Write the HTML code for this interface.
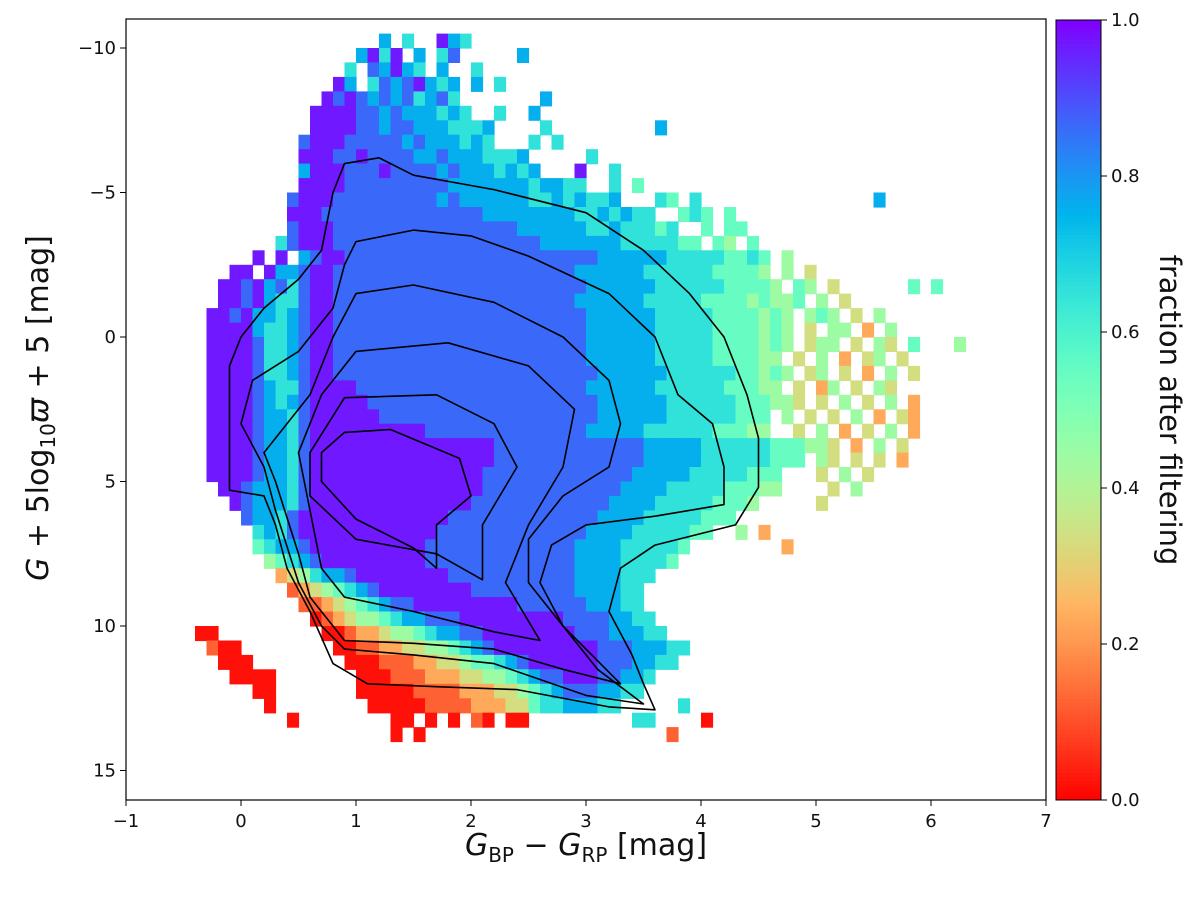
<!DOCTYPE html>
<html><head><meta charset="utf-8"><style>
body{margin:0;background:#fff;width:1200px;height:900px;overflow:hidden}
svg text{font-family:"DejaVu Sans","Liberation Sans",sans-serif;fill:#111}
</style></head><body>
<svg id="chart" width="1200" height="900" xmlns="http://www.w3.org/2000/svg">
<g id="cells"></g>
<g id="contours"></g>
<g id="axes"></g>
<g id="cbar"></g>
</svg>
<script>
// ---- data ----
const xTicks=[-1,0,1,2,3,4,5,6,7];
const yTicks=[-10,-5,0,5,10,15];
const cbTicks=[0.0,0.2,0.4,0.6,0.8,1.0];
const cellW=0.1, cellH=0.5;
const P=(c,n)=>c.repeat(n);
// each row: [yTop, [xStart, levels...]]  levels 0..9 => fraction, '.' empty
const rows=[
[-10.5,[1.2,"7.6..9.6"],[1.8,"7"]],
[-10,[1.0,"7969.7.68"],[2.4,"7"]],
[-9.5,[0.9,"6.87976.7"],[2.0,"6"]],
[-9,[0.8,"97.68789767"],[2.0,"7.6"]],
[-8.5,[0.7,"989878786786"],[2.6,"7"]],
[-8,[0.6,"99998878777676"],[2.2,"6..7"]],
[-7.5,[0.6,"9999887887776667"],[2.6,"6"],[3.6,"7"]],
[-7,[0.5,"89998888878777676"],[2.5,"6.6"]],
[-6.5,[0.5,"99988988887787776667"],[3.0,"6"]],
[-6,[0.5,"799988898888787776767"],[2.9,"9..6"]],
[-5.5,[0.5,"9999888888888777777767766"],[3.2,"6.5"]],
[-5,[0.4,"89998888888887877777766767667"],[3.6,"65.6"],[5.5,"7"]],
[-4.5,[0.4,"99988888888888888777777776676766"],[3.8,"565.5"]],
[-4,[0.4,"8999888888888888888877777766766656"],[4.0,"5.55"]],
[-3.5,[0.3,"6899988888888888888888877777776666655"],[4.1,"54.5"]],
[-3,[0.1,"9.9.7899888888888888888888888877777766666556"],[4.5,"5.4"]],
[-2.5,[-0.1,"99.97789988888888888888888888877777766666655554"],[4.7,"4.3"]],
[-2,[-0.2,"998978689988888888888888888888887777776666665555"],[4.6,"4.54.3"],[5.8,"5.5"]],
[-1.5,[-0.2,"99897668998888888888888888888887777776666655554"],[4.5,"5445.4.3"]],
[-1,[-0.3,"9989776789988888888888888888888887777776666655554"],[4.6,"54.454.3.4"]],
[-0.5,[-0.3,"99997667899888888888888888888888877777766666555"],[4.4,"5454.3.44.2.4"]],
[0,[-0.3,"9999866789988888888888888888888887777776666655"],[4.3,"55454.344.3.43.5"],[6.2,"4"]],
[0.5,[-0.3,"99998667899888888888888888888888877777766666555"],[4.4,"544.3.4.2.34.3"]],
[1,[-0.3,"999986678998888888888888888888888877777766666655"],[4.5,"454.34.3.2.4.3"]],
[1.5,[-0.3,"9999876689999888888888888888888887777776666665554"],[4.6,"4.3.24.3.43"]],
[2,[-0.3,"99998767899999888888888888888888887777776666665554"],[4.7,"43.3.4.3.4.2"]],
[2.5,[-0.3,"999987768"+P("9",6)+P("8",19)+"777777666666555"],[4.7,"4.3.3.4.2.32"]],
[3,[-0.3,"999987768"+P("9",10)+P("8",14)+"7777766666655544"],[4.8,"3.4.2.3.4.2"]],
[3.5,[-0.3,"999987768"+P("9",16)+P("8",13)+"7777766666655544"],[5.1,"3.2.4.3"]],
[4,[-0.3,"999987768"+P("9",16)+P("8",13)+"77777666666555"],[5.0,"43.3.3.2"]],
[4.5,[-0.3,"999987768"+P("9",15)+P("8",13)+"7777766666555"],[5.0,"3.4.3"]],
[5,[-0.2,"99877768"+P("9",15)+P("8",12)+"77776666655544"],[5.1,"3.4"]],
[5.5,[-0.1,"9877768"+P("9",14)+P("8",12)+"7777666665554"],[5.0,"3"]],
[6,[0.0,"877689"+P("9",12)+P("8",13)+"777766666555"]],
[6.5,[0.1,"67689"+P("9",11)+P("8",13)+"77776666655"],[4.3,"4.2"]],
[7,[0.1,"56778"+P("9",10)+P("8",13)+"7777666665"],[4.7,"2"]],
[7.5,[0.2,"45678"+P("9",9)+P("8",13)+"777766665"]],
[8,[0.3,"2346778"+P("9",8)+P("8",11)+"7777666"]],
[8.5,[0.4,"12345678"+P("9",8)+P("8",9)+"777766"]],
[9,[0.5,"11234567"+P("8",2)+P("9",9)+P("8",6)+"77766"]],
[9.5,[0.6,"0123445677"+P("8",3)+P("9",9)+P("8",4)+"7766"]],
[10,[-0.4,"00"],[0.7,"00122344567788"+P("9",8)+"88877766"]],
[10.5,[-0.3,"100"],[0.8,"0011223344567899999999988877766"]],
[11,[-0.2,"000"],[0.9,"00011122334556789999998887766"]],
[11.5,[-0.1,"0000"],[1.0,"00011122233445678899988776"]],
[12,[0.1,"00"],[1.0,"0000011112223345678887766"]],
[12.5,[0.2,"0"],[1.1,"0000011112223356677766"],[3.8,"6"]],
[13,[0.4,"0"],[1.3,"00.0.0.10.00"],[3.4,"66"],[4.0,"0"]],
[13.5,[1.3,"0.0"],[3.7,"1"]]
];
const contour1=[[0.9,-6],[1.2,-6.2],[1.5,-5.6],[2.2,-5.1],[3,-4.3],[3.5,-3],[3.9,-1.5],[4.2,0],[4.4,2],[4.5,3.5],[4.5,5.2],[4.3,6.5],[3.6,7.2],[3.3,8],[3.2,9.5],[3.4,11],[3.5,12],[3.6,12.9],[3.2,12.8],[2.4,12.2],[1.7,12.1],[1.1,12.0],[0.8,11.3],[0.6,9.5],[0.4,8],[0.3,6.5],[0.2,5.5],[-0.1,5.3],[-0.1,3.5],[-0.1,1],[0,0],[0.2,-1],[0.5,-2],[0.7,-3],[0.8,-5]];
const contour2=[[1.0,-3.3],[1.5,-3.7],[2,-3.5],[2.5,-2.8],[3.2,-1.5],[3.6,0],[3.8,2],[4.1,3],[4.2,4.5],[4.2,5.8],[3.6,6.2],[3.0,6.5],[2.7,7.2],[2.6,8.5],[2.8,10],[3.1,11.5],[3.5,12.7],[3.0,12.4],[2.2,11.3],[1.5,11.0],[0.9,10.8],[0.7,10],[0.5,8.5],[0.3,6],[0.2,4.5],[0.0,3],[0.1,1.5],[0.5,0.5],[0.8,-1],[0.9,-2.5]];
const contour3=[[1.0,-1.5],[1.5,-1.8],[2.2,-1.2],[2.8,0],[3.2,1.5],[3.3,3],[3.2,4.5],[2.8,5.5],[2.5,7],[2.5,8.5],[2.8,10],[3.3,12],[2.8,11.5],[2.2,10.8],[1.5,10.6],[0.9,10.5],[0.6,9],[0.5,7.5],[0.3,5],[0.2,4],[0.6,2],[0.8,0]];
const contour4=[[1.0,0.5],[1.8,0.2],[2.5,1.0],[2.9,2.5],[2.8,4.5],[2.5,6.5],[2.3,8.5],[2.6,10.5],[2.2,10.2],[1.5,9.5],[0.9,9.0],[0.7,8],[0.6,6],[0.5,4],[0.7,2]];
const contour5=[[0.9,2.1],[1.7,2.0],[2.2,3],[2.4,4.5],[2.1,6.5],[2.1,8.4],[1.7,7.5],[1.0,7],[0.6,5.5],[0.6,4]];
const contour6=[[0.9,3.3],[1.3,3.2],[1.9,4.2],[2.0,5.5],[1.7,6.5],[1.7,8],[1.5,7.3],[1.0,6.3],[0.7,5],[0.7,4]];
const contours=[contour1,contour2,contour3,contour4,contour5,contour6];

// ---- scales ----
const L=126,R=1046,T=19,B=800;
const X=v=>L+(v+1)*(R-L)/8;
const Y=v=>337+v*28.9;
const CB={x:1056,w:45,top:20,bot:800};
const CY=v=>CB.bot-v*(CB.bot-CB.top);
function rainbowR(f){const x=1-f;const c=t=>Math.round(Math.max(0,Math.min(1,t))*255);
 return `rgb(${c(Math.abs(2*x-0.5))},${c(Math.sin(Math.PI*x))},${c(Math.cos(Math.PI*x/2))})`;}
const NS='http://www.w3.org/2000/svg';
function mk(tag,attrs,parent){const e=document.createElementNS(NS,tag);for(const k in attrs)e.setAttribute(k,attrs[k]);parent.appendChild(e);return e;}

const gc=document.getElementById('cells');
rows.forEach(r=>{const y=r[0];for(let s=1;s<r.length;s++){const [x0,str]=r[s];
 for(let i=0;i<str.length;i++){const ch=str[i];if(ch==='.')continue;const f=ch==='9'?0.97:(+ch)/9*0.95+0.02;
  const xa=X(x0+i*cellW),xb=X(x0+(i+1)*cellW);
  const e=mk('rect',{x:xa.toFixed(1),y:Y(y).toFixed(1),width:(xb-xa+0.6).toFixed(1),height:(Y(y+cellH)-Y(y)+0.6).toFixed(1),fill:rainbowR(f)},gc);
  
  
 }}});

const gct=document.getElementById('contours');
contours.forEach((c,i)=>{const d=c.map((p,j)=>(j?'L':'M')+X(p[0]).toFixed(1)+' '+Y(p[1]).toFixed(1)).join(' ')+'Z';
 const e=mk('path',{d:d,fill:'none',stroke:'#000','stroke-width':1.6,'stroke-linejoin':'round'},gct);
 
 
});

const ga=document.getElementById('axes');
const fr=mk('rect',{x:L,y:T,width:R-L,height:B-T,fill:'none',stroke:'#000','stroke-width':1.2},ga);


const fmt=v=>v<0?'\u2212'+Math.abs(v):String(v);
xTicks.forEach(v=>{mk('line',{x1:X(v),x2:X(v),y1:B,y2:B+6,stroke:'#000'},ga);
 const t=mk('text',{x:X(v),y:B+27,'font-size':18,'text-anchor':'middle'},ga);t.textContent=fmt(v);
 
 });
yTicks.forEach(v=>{mk('line',{x1:L-6,x2:L,y1:Y(v),y2:Y(v),stroke:'#000'},ga);
 const t=mk('text',{x:L-10,y:Y(v)+6,'font-size':18,'text-anchor':'end'},ga);t.textContent=fmt(v);
 
 });

// colorbar
const gb=document.getElementById('cbar');
for(let i=0;i<200;i++){const f=i/200;mk('rect',{x:CB.x,y:CY(f+0.005)-0.5,width:CB.w,height:(CB.bot-CB.top)/200+1,fill:rainbowR(f+0.0025)},gb);}
mk('rect',{x:CB.x,y:CB.top,width:CB.w,height:CB.bot-CB.top,fill:'none',stroke:'#000','stroke-width':1},gb);
cbTicks.forEach(v=>{mk('line',{x1:CB.x+CB.w,x2:CB.x+CB.w+6,y1:CY(v),y2:CY(v),stroke:'#000'},gb);
 const t=mk('text',{x:CB.x+CB.w+10,y:CY(v)+6,'font-size':18},gb);t.textContent=v.toFixed(1);
 
 });
</script>
<svg style="position:absolute;left:0;top:0" width="1200" height="900">
<text x="586" y="855" font-size="30" text-anchor="middle" font-family="DejaVu Sans, sans-serif"><tspan font-style="italic">G</tspan><tspan font-size="20" dy="7">BP</tspan><tspan dy="-7"> − </tspan><tspan font-style="italic">G</tspan><tspan font-size="20" dy="7">RP</tspan><tspan dy="-7"> [mag]</tspan></text>
<text transform="translate(48,408) rotate(-90)" font-size="30" text-anchor="middle" font-family="DejaVu Sans, sans-serif"><tspan font-style="italic">G</tspan> + 5log<tspan font-size="20" dy="7">10</tspan><tspan dy="-7" font-style="italic">ϖ</tspan> + 5 [mag]</text>
<text transform="translate(1160,410) rotate(90)" font-size="29" text-anchor="middle" font-family="DejaVu Sans, sans-serif">fraction after filtering</text>
</svg>
</body></html>
